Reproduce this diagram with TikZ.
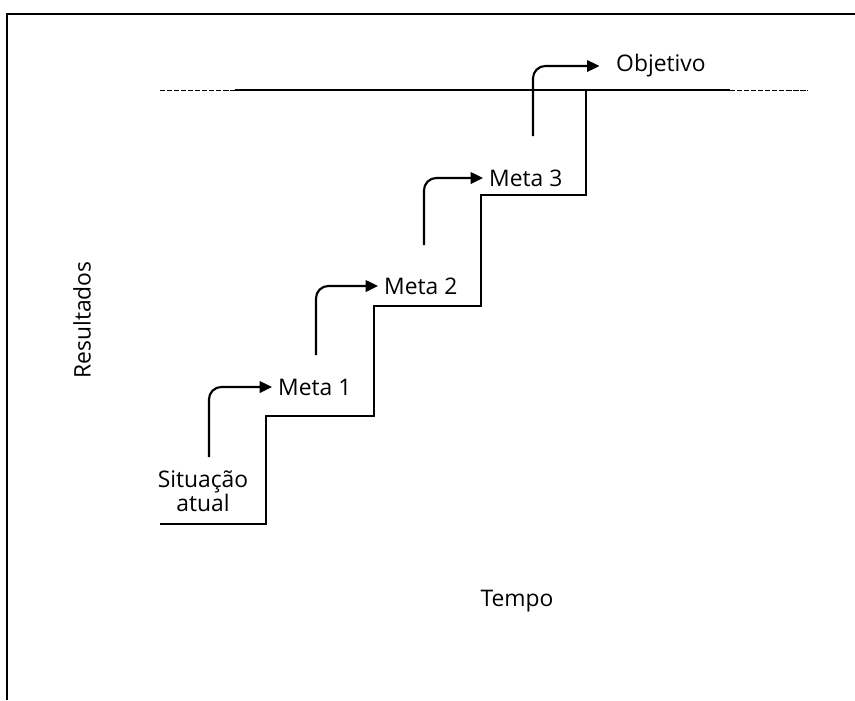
\documentclass[tikz,border=0pt]{standalone}
\usepackage{fontspec}
\setmainfont{Open Sans}
\usetikzlibrary{arrows.meta}

\begin{document}
\begin{tikzpicture}[x=0.02cm, y=-0.02cm,
  rotulo/.style={font=\fontsize{13}{15.5}\selectfont},
  subida/.style={line width=1.2pt, rounded corners=7pt, -{Triangle[length=7pt,width=6.5pt]}}]
\useasboundingbox (0,0) rectangle (855,700);
\draw[line width=1.2pt] (7,700) -- (7,14) -- (855,14);

% escada
\draw[line width=1.1pt] (160,524) -- (266,524) -- (266,416) -- (374,416) -- (374,306)
  -- (481,306) -- (481,195) -- (586,195) -- (586,90);
\draw[line width=1.1pt] (235,90) -- (730,90);
\draw[dashed, dash pattern=on 3pt off 1pt] (160,90) -- (235,90);
\draw[dashed, dash pattern=on 3pt off 1pt] (730,90) -- (808,90);

\node[rotulo, align=center] (sit) at (203,491) {Situação\\[-2pt]atual};
\node[rotulo, anchor=west] (m1) at (272,387) {Meta 1};
\node[rotulo, anchor=west] (m2) at (378,286) {Meta 2};
\node[rotulo, anchor=west] (m3) at (483,178) {Meta 3};
\node[rotulo, anchor=west] (obj) at (610,66) {Objetivo};
\node[rotulo, rotate=90] (res) at (82,320) {Resultados};
\node[rotulo] (tempo) at (517,601) {Tempo};

\coordinate (s0) at (209,457);
\coordinate (s1) at (316,355);
\coordinate (s2) at (424,245);
\coordinate (s3) at (533,136);

\foreach \p/\q in {s0/m1, s1/m2, s2/m3}
{\draw[subida] (\p) |- (\q.west);}
\draw[subida, shorten >=6pt] (s3) |- (obj.west);
\end{tikzpicture}
\end{document}
